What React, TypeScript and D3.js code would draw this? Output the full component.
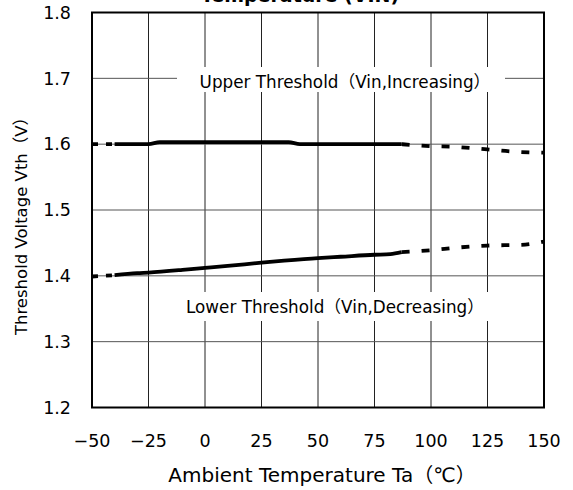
import React from "react";
import * as d3 from "d3";

const xTicks = [-50, -25, 0, 25, 50, 75, 100, 125, 150];
const yTicks = [1.2, 1.3, 1.4, 1.5, 1.6, 1.7, 1.8];

// Upper threshold (Vin increasing)
const upperLeadT = [-50, -40];
const upperLeadV = [1.6, 1.6];
const upperSolidT = [-40, -25, -20, 0, 25, 37, 42, 60, 75, 87];
const upperSolidV = [1.6, 1.6, 1.603, 1.603, 1.603, 1.603, 1.6, 1.6, 1.6, 1.6];
const upperDashT = [87, 100, 110, 125, 135, 150];
const upperDashV = [1.6, 1.597, 1.596, 1.592, 1.589, 1.587];

// Lower threshold (Vin decreasing)
const lowerLeadT = [-50, -40];
const lowerLeadV = [1.399, 1.401];
const lowerSolidT = [-40, -30, -25, -10, 0, 10, 25, 35, 50, 60, 75, 82, 87];
const lowerSolidV = [1.401, 1.404, 1.405, 1.409, 1.412, 1.415, 1.42, 1.423, 1.427, 1.429, 1.432, 1.433, 1.436];
const lowerDashT = [87, 100, 112, 125, 140, 150];
const lowerDashV = [1.436, 1.439, 1.443, 1.446, 1.447, 1.452];

const W = 573;
const H = 490;
const plot = { left: 92, right: 544, top: 12.5, bottom: 407.5 };

const FONT = "'DejaVu Sans', 'Noto Sans CJK JP', sans-serif";

export default function App() {
  const x = d3.scaleLinear().domain([-50, 150]).range([plot.left, plot.right]);
  const y = d3.scaleLinear().domain([1.2, 1.8]).range([plot.bottom, plot.top]);
  const line = d3
    .line<[number, number]>()
    .x((d) => x(d[0]))
    .y((d) => y(d[1]))
    .curve(d3.curveMonotoneX);
  const pts = (t: number[], v: number[]) => t.map((tt, i) => [tt, v[i]] as [number, number]);

  const upperBox = { x0: 177, x1: 505, y0: 67, y1: 92 };
  const lowerBox = { x0: 181, x1: 494, y0: 292, y1: 321 };

  const seriesStyle = { fill: "none", stroke: "#000", strokeWidth: 3.8 };

  return (
    <svg width={W} height={H} style={{ position: "absolute", left: 0, top: 0, background: "#fff" }}>
      <rect x={0} y={0} width={W} height={H} fill="#fff" />
      <text
        x={300}
        y={2}
        textAnchor="middle"
        fontFamily={FONT}
        fontWeight="bold"
        fontSize={19}
        fill="#000"
      >
        Temperature (VIN)
      </text>
      {/* grid */}
      {xTicks.slice(1, -1).map((t) => (
        <line key={"gx" + t} x1={x(t)} x2={x(t)} y1={plot.top} y2={plot.bottom} stroke="#222" strokeWidth={1} />
      ))}
      {yTicks.slice(1, -1).map((v) => (
        <line key={"gy" + v} x1={plot.left} x2={plot.right} y1={y(v)} y2={y(v)} stroke="#555" strokeWidth={1} />
      ))}
      {/* label boxes */}
      <rect x={upperBox.x0} y={upperBox.y0} width={upperBox.x1 - upperBox.x0} height={upperBox.y1 - upperBox.y0} fill="#fff" />
      <rect x={lowerBox.x0} y={lowerBox.y0} width={lowerBox.x1 - lowerBox.x0} height={lowerBox.y1 - lowerBox.y0} fill="#fff" />
      <text x={345} y={88} textAnchor="middle" fontFamily={FONT} fontSize={16.8} fill="#000">
        Upper Threshold（Vin,Increasing）
      </text>
      <text x={335} y={313} textAnchor="middle" fontFamily={FONT} fontSize={16.8} fill="#000">
        Lower Threshold（Vin,Decreasing）
      </text>
      {/* frame */}
      <rect
        x={plot.left}
        y={plot.top}
        width={plot.right - plot.left}
        height={plot.bottom - plot.top}
        fill="none"
        stroke="#000"
        strokeWidth={2}
      />
      {/* series */}
      <path d={line(pts(upperLeadT, upperLeadV)) || ""} {...seriesStyle} strokeDasharray="6,8" />
      <path d={line(pts(upperSolidT, upperSolidV)) || ""} {...seriesStyle} />
      <path d={line(pts(upperDashT, upperDashV)) || ""} {...seriesStyle} strokeDasharray="8,12" />
      <path d={line(pts(lowerLeadT, lowerLeadV)) || ""} {...seriesStyle} strokeDasharray="6,8" />
      <path d={line(pts(lowerSolidT, lowerSolidV)) || ""} {...seriesStyle} />
      <path d={line(pts(lowerDashT, lowerDashV)) || ""} {...seriesStyle} strokeDasharray="8,12" />
      {/* y tick labels */}
      {yTicks.map((v) => (
        <text
          key={"yl" + v}
          x={71}
          y={y(v)}
          dy="0.36em"
          textAnchor="end"
          fontFamily={FONT}
          fontSize={17.5}
          fill="#000"
        >
          {v.toFixed(1)}
        </text>
      ))}
      {/* x tick labels */}
      {xTicks.map((t) => (
        <text
          key={"xl" + t}
          x={x(t)}
          y={447}
          textAnchor="middle"
          fontFamily={FONT}
          fontSize={17.5}
          fill="#000"
        >
          {t < 0 ? "−" + Math.abs(t) : String(t)}
        </text>
      ))}
      <text x={322} y={482} textAnchor="middle" fontFamily={FONT} fontSize={20} fill="#000">
        Ambient Temperature Ta（℃）
      </text>
      <text
        transform={`translate(21, 222) rotate(-90)`}
        textAnchor="middle"
        dy="0.36em"
        fontFamily={FONT}
        fontSize={16.5}
        fill="#000"
      >
        Threshold Voltage Vth（V）
      </text>
    </svg>
  );
}
